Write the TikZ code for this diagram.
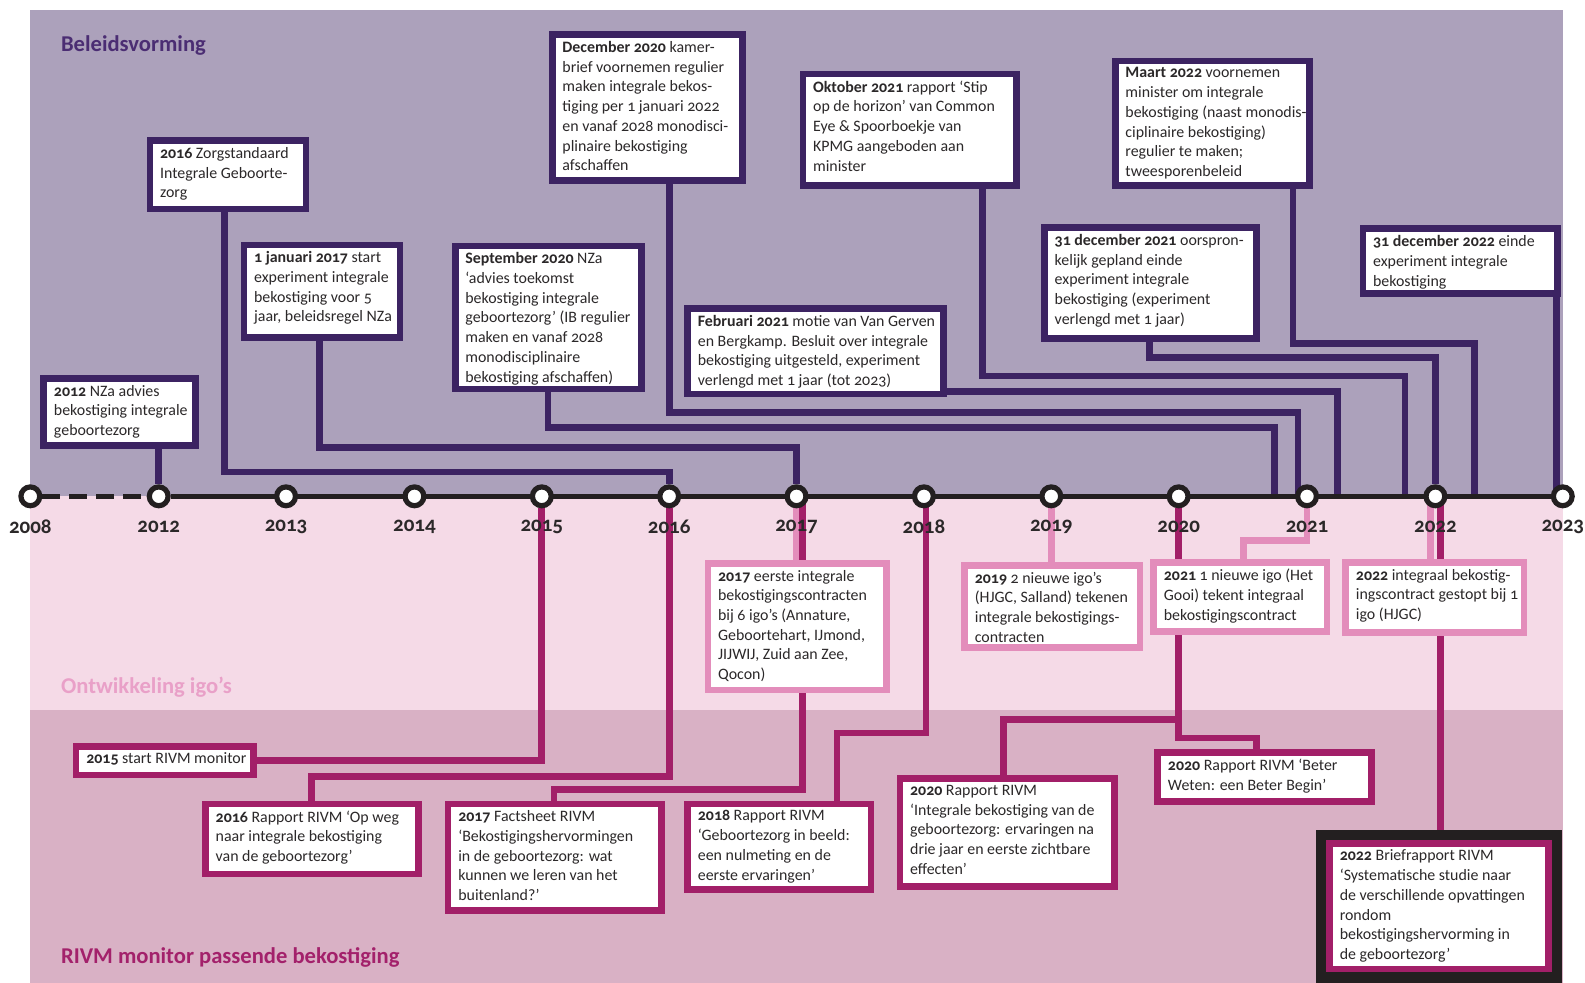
\documentclass[tikz,border=0pt]{standalone}
\usepackage{fontspec}
\setmainfont{Carlito}[Numbers=OldStyle]
\definecolor{pband}{HTML}{ACA1BB}
\definecolor{lband}{HTML}{F5DAE7}
\definecolor{dband}{HTML}{D9B1C5}
\definecolor{dpurple}{HTML}{3C2362}
\definecolor{mag}{HTML}{A21F68}
\definecolor{lpink}{HTML}{E38DBB}
\definecolor{frameblk}{HTML}{231F20}
\definecolor{txtc}{HTML}{2B2829}
\definecolor{lblpurple}{HTML}{4B2D73}
\definecolor{lblpink}{HTML}{E9A0C8}
\definecolor{lblmag}{HTML}{A3216B}
\pgfdeclarelayer{bg}
\pgfdeclarelayer{fg}
\pgfdeclarelayer{top}
\pgfsetlayers{bg,main,fg,top}
\newcommand\evbox[7]{%
  \pgfmathsetmacro\evw{(#5-#3-6.6)*0.5055}%
  \pgfmathsetmacro\evh{(#6-#4-6.6)*0.5055}%
  \node[#2,minimum width=\evw pt,minimum height=\evh pt] (#1) at ({(#3+#5)/2},{(#4+#6)/2}) {};%
  \node[txt] (#1t) at ({#3+13},{#4+9.5}) {#7};%
}
\tikzset{
  conn/.style={line width=3.35pt},
  pl/.style={conn, draw=dpurple},
  ml/.style={conn, draw=mag},
  ll/.style={conn, draw=lpink},
  ebox/.style={rectangle, fill=white, line width=3.35pt, inner sep=0pt, outer sep=0pt},
  pbox/.style={ebox, draw=dpurple},
  mbox/.style={ebox, draw=mag},
  lbox/.style={ebox, draw=lpink},
  txt/.style={inner sep=0pt, align=left, anchor=north west, text=txtc,
    font=\fontsize{7.95}{9.86}\selectfont},
  yr/.style={inner sep=0pt, text=txtc, font=\fontsize{10.5}{12}\selectfont\bfseries},
  sect/.style={inner sep=0pt, anchor=west, font=\fontsize{11.3}{13}\selectfont\bfseries},
  tl/.style={line width=2.6pt, draw=frameblk},
  dot/.style={circle, draw=frameblk, fill=white, line width=2.6pt, minimum size=9.4pt, inner sep=0pt},
}
\begin{document}
\begin{tikzpicture}[x=0.5055pt,y=-0.5055pt]
\useasboundingbox (0,0) rectangle (1568,972);
% ---------- bands
\begin{pgfonlayer}{bg}
\fill[pband] (30,10) rectangle (1546,491);
\fill[lband] (30,491) rectangle (1546,702);
\fill[dband] (30,702) rectangle (1546,972);
\end{pgfonlayer}
% ---------- timeline dots and years
\begin{pgfonlayer}{top}
\foreach \yy/\xx in {2008/30,2012/157,2013/283,2014/410,2015/536,2016/662,2017/788,2018/914,2019/1040,2020/1166,2021/1293,2022/1420,2023/1546}{
  \node[dot] (c\yy) at (\xx,491) {};
  \node[yr] (y\yy) at (\xx,521) {\yy};
}
\node[sect, text=lblpurple] (lbel) at (60,45) {Beleidsvorming};
\node[sect, text=lblpink] (lont) at (60,680) {Ontwikkeling igo’s};
\node[sect, text=lblmag] (lriv) at (60,947) {RIVM monitor passende bekostiging};
\end{pgfonlayer}
% ---------- boxes and timeline
\begin{pgfonlayer}{fg}
\draw[tl, dash pattern=on 9pt off 4.5pt] (c2008) -- (c2012);
\draw[tl] (c2012) -- (c2023);
% beleidsvorming
\evbox{b1}{pbox}{40}{371}{197}{444}{\textbf{2012} NZa advies\\bekostiging integrale\\geboortezorg}
\evbox{b2}{pbox}{145}{136}{306}{210}{\textbf{2016} Zorgstandaard\\Integrale Geboorte-\\zorg}
\evbox{b3}{pbox}{238}{239}{399}{337}{\textbf{1 januari 2017} start\\experiment integrale\\bekostiging voor 5\\jaar, beleidsregel NZa}
\evbox{b4}{pbox}{447}{240}{638}{388}{\textbf{September 2020} NZa\\‘advies toekomst\\bekostiging integrale\\geboortezorg’ (IB regulier\\maken en vanaf 2028\\monodisciplinaire\\bekostiging afschaffen)}
\evbox{b5}{pbox}{543}{31}{738}{182}{\textbf{December 2020} kamer-\\brief voornemen regulier\\maken integrale bekos-\\tiging per 1 januari 2022\\en vanaf 2028 monodisci-\\plinaire bekostiging\\afschaffen}
\evbox{b6}{pbox}{791}{70}{1009}{187}{\textbf{Oktober 2021} rapport ‘Stip\\op de horizon’ van Common\\Eye \& Spoorboekje van\\KPMG aangeboden aan\\minister}
\evbox{b7}{pbox}{677}{302}{937}{393}{\textbf{Februari 2021} motie van Van Gerven\\en Bergkamp. Besluit over integrale\\bekostiging uitgesteld, experiment\\verlengd met 1 jaar (tot 2023)}
\evbox{b8}{pbox}{1030}{222}{1246}{338}{\textbf{31 december 2021} oorspron-\\kelijk gepland einde\\experiment integrale\\bekostiging (experiment\\verlengd met 1 jaar)}
\evbox{b9}{pbox}{1100}{57}{1299}{187}{\textbf{Maart 2022} voornemen\\minister om integrale\\bekostiging (naast monodis-\\ciplinaire bekostiging)\\regulier te maken;\\tweesporenbeleid}
\evbox{b10}{pbox}{1345}{223}{1544}{294}{\textbf{31 december 2022} einde\\experiment integrale\\bekostiging}
% ontwikkeling igo's
\evbox{p1}{lbox}{697}{554}{880}{686}{\textbf{2017} eerste integrale\\bekostigingscontracten\\bij 6 igo’s (Annature,\\Geboortehart, IJmond,\\JIJWIJ, Zuid aan Zee,\\Qocon)}
\evbox{p2}{lbox}{951}{556}{1131}{644}{\textbf{2019} 2 nieuwe igo’s\\(HJGC, Salland) tekenen\\integrale bekostigings-\\contracten}
\evbox{p3}{lbox}{1138}{553}{1316}{628}{\textbf{2021} 1 nieuwe igo (Het\\Gooi) tekent integraal\\bekostigingscontract}
\evbox{p4}{lbox}{1328}{553}{1511}{629}{\textbf{2022} integraal bekostig-\\ingscontract gestopt bij 1\\igo (HJGC)}
% RIVM monitor
\evbox{r1}{mbox}{72}{735}{254}{770}{\textbf{2015} start RIVM monitor}
\evbox{r2}{mbox}{200}{792}{417}{868}{\textbf{2016} Rapport RIVM ‘Op weg\\naar integrale bekostiging\\van de geboortezorg’}
\evbox{r3}{mbox}{440}{792}{658}{904}{\textbf{2017} Factsheet RIVM\\‘Bekostigingshervormingen\\in de geboortezorg: wat\\kunnen we leren van het\\buitenland?’}
\evbox{r4}{mbox}{677}{792}{865}{883}{\textbf{2018} Rapport RIVM\\‘Geboortezorg in beeld:\\een nulmeting en de\\eerste ervaringen’}
\evbox{r5}{mbox}{887}{767}{1106}{880}{\textbf{2020} Rapport RIVM\\‘Integrale bekostiging van de\\geboortezorg: ervaringen na\\drie jaar en eerste zichtbare\\effecten’}
\evbox{r6}{mbox}{1142}{741}{1360}{796}{\textbf{2020} Rapport RIVM ‘Beter\\Weten: een Beter Begin’}
\node[rectangle, fill=frameblk, inner sep=0pt, minimum width={243*0.5055pt}, minimum height={155*0.5055pt}] (r7f) at (1423.5,898.5) {};
\evbox{r7}{mbox}{1312}{831}{1535}{962}{\textbf{2022} Briefrapport RIVM\\‘Systematische studie naar\\de verschillende opvattingen\\rondom\\bekostigingshervorming in\\de geboortezorg’}
\end{pgfonlayer}
% ---------- connectors (main layer, below boxes)
\coordinate (k2) at (222,467);
\coordinate (k3) at (316,443);
\coordinate (k4) at (542,423);  \coordinate (e4) at (1261,491);
\coordinate (k5) at (662,408);  \coordinate (e5) at (1284,491);
\coordinate (k6) at (972,372);  \coordinate (e6) at (1390,491);
\coordinate (k7) at (900,387);  \coordinate (e7) at (1323,491);
\coordinate (k8) at (1137,354);
\coordinate (k9) at (1279,340); \coordinate (e9) at (1459,491);
\coordinate (e10) at (1540,491);
\draw[pl] (b1.south -| c2012) -- (c2012);
\draw[pl] (b2.south -| k2) -- (k2) -| (c2016);
\draw[pl] (b3.south -| k3) -- (k3) -| (c2017);
\draw[pl] (b4.south -| k4) -- (k4) -| (e4);
\draw[pl] (b5.south -| k5) -- (k5) -| (e5);
\draw[pl] (b6.south -| k6) -- (k6) -| (e6);
\draw[pl] (b7.east |- k7) -| (e7);
\draw[pl] (b8.south -| k8) -- (k8) -| (c2022);
\draw[pl] (b9.south -| k9) -- (k9) -| (e9);
\draw[pl] (b10.south -| e10) -- (e10);
% light pink
\coordinate (q21) at (1230,535);
\coordinate (s22p) at (1415,491);
\draw[ll] (c2017) -- (p1.north -| c2017);
\draw[ll] (c2019) -- (p2.north -| c2019);
\draw[ll] (c2021) |- (q21) -- (p3.north -| q21);
\draw[ll] (s22p) -- (p4.north -| s22p);
% magenta
\coordinate (s17) at (794,491); \coordinate (j17) at (548,781);
\coordinate (s18) at (916,491); \coordinate (j18) at (828,725);
\coordinate (j16) at (308,768);
\coordinate (j20a) at (1166,712); \coordinate (j20c) at (993,712);
\coordinate (j20b) at (1243,730);
\coordinate (s22) at (1425,491);
\draw[ml] (c2015) |- (r1.east);
\draw[ml] (c2016) |- (j16) -- (r2.north -| j16);
\draw[ml] (s17) |- (j17) -- (r3.north -| j17);
\draw[ml] (s18) |- (j18) -- (r4.north -| j18);
\draw[ml] (c2020) |- (j20b) -- (r6.north -| j20b);
\draw[ml] (j20a) -- (j20c) -- (r5.north -| j20c);
\draw[ml] (s22) -- (r7f.north -| s22);
\end{tikzpicture}
\end{document}
